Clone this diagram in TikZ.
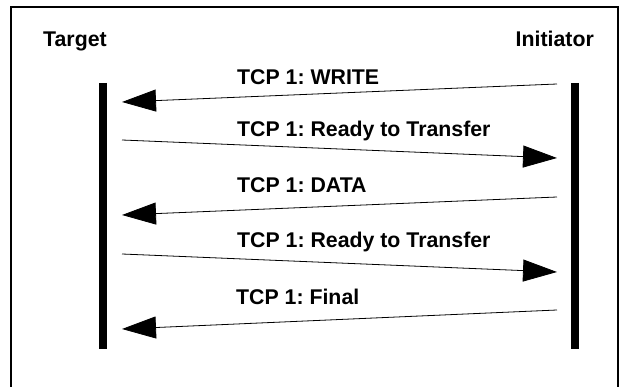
\documentclass[tikz,border=0pt]{standalone}
\usepackage{fontspec}
\setmainfont{Liberation Sans}
\usetikzlibrary{arrows.meta}
\frenchspacing
\begin{document}
\begin{tikzpicture}[x=1pt,y=-1pt,
  lbl/.style={inner sep=0pt,anchor=base west,font=\fontsize{21.3}{25}\selectfont\bfseries},
  lifeline/.style={line width=8pt},
  msg/.style={line width=0.8pt,-{Triangle[length=34pt,width=22pt]}},
  frame/.style={line width=1.3pt}]
\useasboundingbox (0,0) rectangle (621,387);
% open frame (bottom edge lies outside the page)
\draw[frame] (11,400) -- (11,7) -- (618,7) -- (618,400);
% party names
\node[lbl] (target) at (43,47) {Target};
\node[lbl,anchor=base east] (initiator) at (594,47) {Initiator};
% lifelines
\coordinate (tTop) at (103,83);
\coordinate (tBot) at (103,349);
\coordinate (iTop) at (575,83);
\coordinate (iBot) at (575,349);
\draw[lifeline] (tTop) -- (tBot);
\draw[lifeline] (iTop) -- (iBot);
% message end points
\coordinate (m1a) at (557,84);  \coordinate (m1b) at (122,102);
\coordinate (m2a) at (122,140); \coordinate (m2b) at (557,158);
\coordinate (m3a) at (557,197); \coordinate (m3b) at (122,215);
\coordinate (m4a) at (122,254); \coordinate (m4b) at (557,272);
\coordinate (m5a) at (557,310); \coordinate (m5b) at (122,329);
\draw[msg] (m1a) -- (m1b);
\draw[msg] (m2a) -- (m2b);
\draw[msg] (m3a) -- (m3b);
\draw[msg] (m4a) -- (m4b);
\draw[msg] (m5a) -- (m5b);
% message labels
\node[lbl] (l1) at (237,85) {TCP 1: WRITE};
\node[lbl] (l2) at (237,136.5) {TCP 1: Ready to Transfer};
\node[lbl] (l3) at (237,193) {TCP 1: DATA};
\node[lbl] (l4) at (237,248) {TCP 1: Ready to Transfer};
\node[lbl] (l5) at (236,305) {TCP 1: Final};
\end{tikzpicture}
\end{document}
